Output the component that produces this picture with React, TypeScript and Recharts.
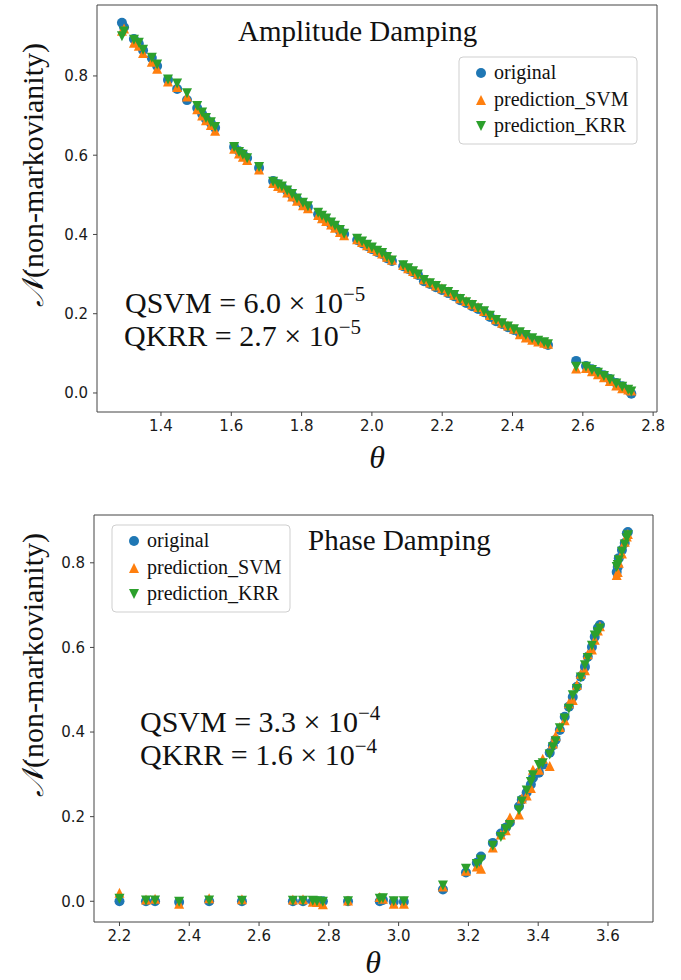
import { ScatterChart, Scatter, XAxis, YAxis, ReferenceLine } from 'recharts'

// Amplitude damping panel (theta, original, predictions)
const ampTheta = [
  1.289, 1.295, 1.323, 1.337, 1.349, 1.374, 1.389, 1.420, 1.446, 1.474,
  1.503, 1.517, 1.528, 1.542, 1.554, 1.608, 1.622, 1.633, 1.645, 1.679,
  1.719, 1.733, 1.744, 1.759, 1.773, 1.787, 1.804, 1.818, 1.847, 1.858,
  1.870, 1.884, 1.895, 1.909, 1.921, 1.958, 1.972, 1.986, 2.000, 2.015,
  2.029, 2.043, 2.057, 2.089, 2.103, 2.117, 2.131, 2.148, 2.165, 2.182,
  2.199, 2.217, 2.234, 2.251, 2.268, 2.285, 2.302, 2.319, 2.336, 2.353,
  2.370, 2.387, 2.404, 2.421, 2.438, 2.456, 2.473, 2.490, 2.501, 2.581,
  2.609, 2.626, 2.643, 2.660, 2.677, 2.695, 2.712, 2.729, 2.738,
]
const ampOriginal = [
  0.934, 0.923, 0.893, 0.881, 0.865, 0.845, 0.825, 0.790, 0.767, 0.739,
  0.719, 0.704, 0.691, 0.681, 0.669, 0.621, 0.610, 0.603, 0.593, 0.568,
  0.535, 0.527, 0.520, 0.510, 0.499, 0.489, 0.477, 0.469, 0.451, 0.444,
  0.436, 0.426, 0.419, 0.409, 0.401, 0.386, 0.378, 0.371, 0.363, 0.356,
  0.351, 0.340, 0.333, 0.320, 0.313, 0.305, 0.298, 0.282, 0.275, 0.267,
  0.260, 0.252, 0.244, 0.234, 0.227, 0.219, 0.212, 0.204, 0.192, 0.181,
  0.174, 0.166, 0.159, 0.151, 0.144, 0.136, 0.131, 0.126, 0.121, 0.081,
  0.068, 0.060, 0.053, 0.045, 0.035, 0.025, 0.017, 0.007, -0.002,
]
const ampSVM = [
  0.914, 0.920, 0.884, 0.876, 0.858, 0.836, 0.818, 0.786, 0.772, 0.748,
  0.716, 0.700, 0.688, 0.676, 0.662, 0.616, 0.604, 0.596, 0.588, 0.564,
  0.530, 0.522, 0.518, 0.506, 0.496, 0.485, 0.474, 0.466, 0.449, 0.441,
  0.434, 0.425, 0.417, 0.406, 0.398, 0.388, 0.381, 0.373, 0.366, 0.359,
  0.352, 0.344, 0.336, 0.323, 0.315, 0.308, 0.301, 0.287, 0.279, 0.271,
  0.264, 0.256, 0.248, 0.239, 0.232, 0.224, 0.217, 0.207, 0.197, 0.186,
  0.177, 0.170, 0.162, 0.148, 0.140, 0.134, 0.130, 0.127, 0.124, 0.062,
  0.063, 0.055, 0.047, 0.040, 0.030, 0.019, 0.012, 0.009, 0.006,
]
const ampKRR = [
  0.900, 0.912, 0.891, 0.884, 0.866, 0.846, 0.829, 0.791, 0.781, 0.756,
  0.724, 0.708, 0.694, 0.683, 0.671, 0.621, 0.608, 0.601, 0.592, 0.570,
  0.533, 0.526, 0.521, 0.511, 0.502, 0.491, 0.480, 0.471, 0.455, 0.447,
  0.440, 0.430, 0.422, 0.411, 0.402, 0.389, 0.382, 0.374, 0.367, 0.359,
  0.353, 0.343, 0.334, 0.322, 0.315, 0.307, 0.299, 0.285, 0.277, 0.270,
  0.262, 0.255, 0.247, 0.237, 0.229, 0.222, 0.214, 0.206, 0.195, 0.184,
  0.176, 0.168, 0.161, 0.153, 0.146, 0.138, 0.132, 0.128, 0.123, 0.066,
  0.066, 0.058, 0.051, 0.043, 0.034, 0.024, 0.016, 0.008, 0.004,
]

// Phase damping panel
const phaseTheta = [
  2.200, 2.276, 2.302, 2.371, 2.457, 2.551, 2.697, 2.726, 2.754, 2.766,
  2.783, 2.855, 2.946, 2.955, 2.986, 3.015, 3.127, 3.193, 3.224, 3.236,
  3.270, 3.293, 3.307, 3.319, 3.345, 3.353, 3.367, 3.379, 3.385, 3.402,
  3.413, 3.433, 3.442, 3.450, 3.462, 3.476, 3.488, 3.499, 3.511, 3.522,
  3.534, 3.542, 3.554, 3.562, 3.571, 3.577, 3.625, 3.628, 3.631, 3.640,
  3.648, 3.654, 3.657,
]
const phaseOriginal = [
  0.000, 0.000, 0.000, -0.002, 0.000, 0.000, 0.000, 0.000, 0.000, 0.000,
  0.000, 0.000, 0.000, 0.003, -0.001, -0.001, 0.028, 0.068, 0.091, 0.106,
  0.138, 0.160, 0.174, 0.186, 0.224, 0.240, 0.257, 0.276, 0.292, 0.304,
  0.323, 0.351, 0.368, 0.382, 0.405, 0.436, 0.460, 0.483, 0.507, 0.531,
  0.554, 0.578, 0.601, 0.625, 0.646, 0.653, 0.778, 0.790, 0.811, 0.830,
  0.847, 0.870, 0.873,
]
const phaseSVM = [
  0.020, 0.004, 0.006, -0.006, 0.007, 0.005, 0.004, 0.005, -0.001, -0.002,
  -0.007, 0.002, 0.010, 0.006, -0.006, -0.006, 0.035, 0.072, 0.082, 0.077,
  0.127, 0.158, 0.168, 0.198, 0.205, 0.243, 0.250, 0.268, 0.311, 0.311,
  0.337, 0.320, 0.373, 0.391, 0.412, 0.428, 0.468, 0.476, 0.512, 0.538,
  0.546, 0.584, 0.595, 0.618, 0.640, 0.650, 0.771, 0.778, 0.800, 0.822,
  0.850, 0.862, 0.868,
]
const phaseKRR = [
  0.006, 0.002, 0.002, -0.001, 0.002, 0.001, 0.001, 0.001, 0.001, 0.000,
  -0.001, 0.000, 0.006, 0.007, 0.000, 0.000, 0.037, 0.077, 0.088, 0.098,
  0.131, 0.152, 0.170, 0.180, 0.215, 0.236, 0.262, 0.282, 0.298, 0.322,
  0.326, 0.347, 0.364, 0.378, 0.409, 0.432, 0.455, 0.487, 0.502, 0.529,
  0.558, 0.575, 0.604, 0.628, 0.636, 0.645, 0.790, 0.795, 0.806, 0.826,
  0.843, 0.858, 0.865,
]

const ampXTicks = [1.4, 1.6, 1.8, 2.0, 2.2, 2.4, 2.6, 2.8]
const phaseXTicks = [2.2, 2.4, 2.6, 2.8, 3.0, 3.2, 3.4, 3.6]
const yTicks = [0, 0.2, 0.4, 0.6, 0.8]
const legendLabels = ['original', 'prediction_SVM', 'prediction_KRR']

const BLUE = '#1f77b4'
const ORANGE = '#ff7f0e'
const GREEN = '#2ca02c'
const FRAME = '#444'
const SERIF = '"Liberation Serif", "Times New Roman", serif'
const R = 5

const zip = (xs: number[], ys: number[]) => xs.map((x, i) => ({ x, y: ys[i] }))

function CircleMark(props: any) {
  if (props.cx == null) return null
  return <circle cx={props.cx} cy={props.cy} r={R} fill={BLUE} />
}
function UpMark(props: any) {
  const { cx, cy } = props
  if (cx == null) return null
  return <polygon points={`${cx},${cy - R} ${cx - R},${cy + R} ${cx + R},${cy + R}`} fill={ORANGE} />
}
function DownMark(props: any) {
  const { cx, cy } = props
  if (cx == null) return null
  return <polygon points={`${cx},${cy + R} ${cx - R},${cy - R} ${cx + R},${cy - R}`} fill={GREEN} />
}

interface PanelProps {
  theta: number[]
  orig: number[]
  svm: number[]
  krr: number[]
  xDomain: [number, number]
  yDomain: [number, number]
  xTicks: number[]
  top: number
  marginTop: number
  marginRight: number
  yWidth: number
  xHeight: number
}

function Panel(p: PanelProps) {
  const tickStyle = { fill: '#1a1a1a', fontSize: 15, fontFamily: '"DejaVu Sans", sans-serif' }
  return (
    <div style={{ position: 'absolute', left: 0, top: p.top }}>
      <ScatterChart width={681} height={490} margin={{ top: p.marginTop, right: p.marginRight, left: 0, bottom: 0 }}>
        <XAxis
          type="number"
          dataKey="x"
          domain={p.xDomain}
          allowDataOverflow
          ticks={p.xTicks}
          tickFormatter={(v: number) => v.toFixed(1)}
          height={p.xHeight}
          tickSize={4}
          tickMargin={4}
          stroke={FRAME}
          tick={tickStyle}
        />
        <YAxis
          type="number"
          dataKey="y"
          domain={p.yDomain}
          allowDataOverflow
          ticks={yTicks}
          tickFormatter={(v: number) => v.toFixed(1)}
          width={p.yWidth}
          tickSize={4}
          tickMargin={5}
          stroke={FRAME}
          tick={tickStyle}
        />
        <ReferenceLine y={p.yDomain[1]} stroke={FRAME} />
        <ReferenceLine x={p.xDomain[1]} stroke={FRAME} />
        <Scatter data={zip(p.theta, p.orig)} shape={CircleMark} isAnimationActive={false} />
        <Scatter data={zip(p.theta, p.svm)} shape={UpMark} isAnimationActive={false} />
        <Scatter data={zip(p.theta, p.krr)} shape={DownMark} isAnimationActive={false} />
      </ScatterChart>
    </div>
  )
}

function LegendBox({ x, y }: { x: number; y: number }) {
  const mx = x + 22
  const rows = [y + 16, y + 43, y + 69]
  return (
    <g>
      <rect x={x} y={y} width={178} height={87} rx={4} fill="#fff" fillOpacity={0.85} stroke="#cfcfcf" />
      <CircleMark cx={mx} cy={rows[0]} />
      <UpMark cx={mx} cy={rows[1]} />
      <DownMark cx={mx} cy={rows[2]} />
      {legendLabels.map((l, i) => (
        <text key={l} x={mx + 13} y={rows[i] + 6} fontSize={20} fontFamily={SERIF} fill="#111">
          {l}
        </text>
      ))}
    </g>
  )
}

function MseLine({ x, y, name, val, exp }: { x: number; y: number; name: string; val: string; exp: string }) {
  return (
    <text x={x} y={y} fontSize={30} fontFamily={SERIF} fill="#111">
      {`${name} = ${val} × 10`}
      <tspan dy={-12} fontSize={21}>{`−${exp}`}</tspan>
    </text>
  )
}

export default function App() {
  return (
    <div style={{ position: 'absolute', left: 0, top: 0, width: 681, height: 980, background: '#fff' }}>
      <Panel
        theta={ampTheta}
        orig={ampOriginal}
        svm={ampSVM}
        krr={ampKRR}
        xDomain={[1.218, 2.811]}
        yDomain={[-0.048, 0.979]}
        xTicks={ampXTicks}
        top={0}
        marginTop={5}
        marginRight={24}
        yWidth={97}
        xHeight={78}
      />
      <Panel
        theta={phaseTheta}
        orig={phaseOriginal}
        svm={phaseSVM}
        krr={phaseKRR}
        xDomain={[2.127, 3.729]}
        yDomain={[-0.049, 0.913]}
        xTicks={phaseXTicks}
        top={490}
        marginTop={25}
        marginRight={28}
        yWidth={94}
        xHeight={58}
      />
      <svg width={681} height={980} style={{ position: 'absolute', left: 0, top: 0, pointerEvents: 'none' }}>
        {/* top panel texts */}
        <text x={238} y={41} fontSize={29} fontFamily={SERIF} fill="#111">Amplitude Damping</text>
        <LegendBox x={459} y={57} />
        <MseLine x={125} y={313} name="QSVM" val="6.0" exp="5" />
        <MseLine x={124} y={346} name="QKRR" val="2.7" exp="5" />
        <text x={377} y={468} fontSize={32} fontStyle="italic" fontFamily={SERIF} textAnchor="middle" fill="#111">θ</text>
        <text transform="rotate(-90 43 43)" x={43} y={43} fontSize={30} fontFamily={SERIF} textAnchor="end" fill="#111">
          <tspan fontStyle="italic">𝒩</tspan>(non-markovianity)
        </text>

        {/* bottom panel texts */}
        <text x={308} y={550} fontSize={29} fontFamily={SERIF} fill="#111">Phase Damping</text>
        <LegendBox x={112} y={525} />
        <MseLine x={140} y={732} name="QSVM" val="3.3" exp="4" />
        <MseLine x={140} y={765} name="QKRR" val="1.6" exp="4" />
        <text x={373} y={973} fontSize={32} fontStyle="italic" fontFamily={SERIF} textAnchor="middle" fill="#111">θ</text>
        <text transform="rotate(-90 43 533)" x={43} y={533} fontSize={30} fontFamily={SERIF} textAnchor="end" fill="#111">
          <tspan fontStyle="italic">𝒩</tspan>(non-markovianity)
        </text>
      </svg>
    </div>
  )
}
